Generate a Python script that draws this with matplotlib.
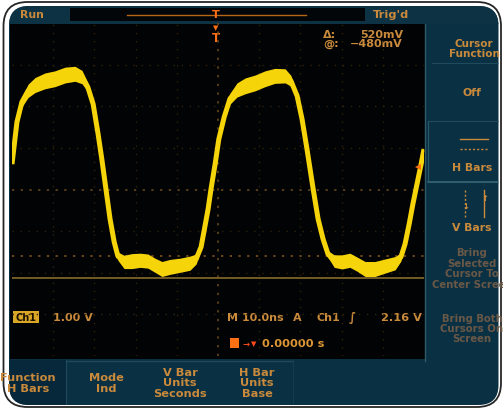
import matplotlib
matplotlib.use("Agg")
import matplotlib.pyplot as plt
from matplotlib.patches import FancyBboxPatch, Rectangle
import numpy as np

time_ns = [-50.0, -48.8, -47.6, -46.1, -44.4, -42.0, -39.6, -37.1, -34.7, -33.0,
           -31.6, -30.3, -29.1, -28.2, -27.2, -26.2, -25.2, -24.3, -22.8, -20.9,
           -18.9, -17.0, -15.3, -13.6, -11.7, -9.2, -6.8, -5.3, -4.1, -3.2,
           -2.4, -1.7, -0.7, 0.2, 1.5, 2.9, 4.6, 6.6, 9.0, 11.4,
           13.8, 16.3, 17.7, 19.2, 20.4, 21.6, 23.1, 24.3, 25.5, 26.7,
           28.2, 30.1, 32.0, 33.7, 35.7, 38.1, 40.5, 43.0, 44.4, 45.4,
           46.4, 47.3, 48.3, 49.3, 50.0]
trace_v = [0.61, 1.62, 2.10, 2.37, 2.51, 2.61, 2.66, 2.75, 2.78, 2.70,
           2.46, 2.05, 1.33, 0.73, 0.01, -0.71, -1.26, -1.60, -1.74, -1.72,
           -1.70, -1.72, -1.82, -1.91, -1.86, -1.82, -1.77, -1.67, -1.38, -0.90,
           -0.47, 0.01, 0.61, 1.21, 1.74, 2.18, 2.39, 2.49, 2.56, 2.66,
           2.73, 2.73, 2.61, 2.25, 1.69, 0.97, 0.01, -0.71, -1.19, -1.55,
           -1.72, -1.74, -1.70, -1.79, -1.91, -1.91, -1.84, -1.77, -1.62, -1.31,
           -0.83, -0.35, 0.13, 0.61, 0.97]
noise_v = [0.03, 0.06, 0.12, 0.16, 0.18, 0.19, 0.19, 0.19, 0.18, 0.16,
           0.11, 0.06, 0.02, 0.02, 0.02, 0.02, 0.04, 0.10, 0.16, 0.18,
           0.17, 0.17, 0.17, 0.18, 0.18, 0.17, 0.17, 0.12, 0.05, 0.02,
           0.02, 0.02, 0.02, 0.03, 0.07, 0.13, 0.17, 0.19, 0.19, 0.19,
           0.18, 0.17, 0.13, 0.07, 0.03, 0.02, 0.02, 0.02, 0.03, 0.08,
           0.15, 0.17, 0.17, 0.17, 0.18, 0.18, 0.17, 0.16, 0.10, 0.04,
           0.02, 0.02, 0.02, 0.02, 0.02]
cursor_levels_v = [-1.60, -2.12]
trigger_level_v = 0.54
time_divs = [-50, -40, -30, -20, -10, 0, 10, 20, 30, 40, 50]
volt_divs = [-4, -3, -2, -1, 0, 1, 2, 3, 4]

side_menu = ["Cursor\nFunction", "Off", "H Bars", "V Bars",
             "Bring\nSelected\nCursor To\nCenter Screen", "Bring Both\nCursors On\nScreen"]
bottom_menu = ["Function\nH Bars", "Mode\nInd", "V Bar\nUnits\nSeconds", "H Bar\nUnits\nBase"]
readout_delta = ("\u0394:", "520mV")
readout_at = ("@:", "\u2212480mV")
readout_ch = ("Ch1", "1.00 V")
readout_time = ["M 10.0ns", "A", "Ch1", "\u222b", "2.16 V"]
readout_pos = "0.00000 s"

# ---------------- styles ----------------
TEAL = "#0a3043"
TEAL_D = "#07273a"
ORANGE = "#c98a3c"
DIM = "#6a5847"
YELLOW = "#f6d40a"
BRIGHT = "#ff6f14"
FONT = "DejaVu Sans"

fig = plt.figure(figsize=(5.03, 4.10), dpi=100)
fig.patch.set_facecolor("white")

bg = fig.add_axes([0, 0, 1, 1])
bg.set_xlim(0, 503)
bg.set_ylim(410, 0)
bg.axis("off")

outline = FancyBboxPatch((3.5, 3), 497.5, 405, boxstyle="round,pad=0,rounding_size=24",
                         facecolor="white", edgecolor="#262626", lw=1.3, zorder=0)
bg.add_patch(outline)
screen = FancyBboxPatch((9, 7), 489.5, 399, boxstyle="round,pad=0,rounding_size=20",
                        facecolor=TEAL, edgecolor="none", zorder=1)
bg.add_patch(screen)


def rect(x0, y0, x1, y1, color, z=2, **kw):
    r = Rectangle((x0, y0), x1 - x0, y1 - y0, facecolor=color, edgecolor="none", zorder=z, **kw)
    bg.add_patch(r)
    r.set_clip_path(screen)
    return r


def txt(x, y, s, color=ORANGE, size=7.5, ha="center", va="center", z=6, **kw):
    t = bg.text(x, y, s, color=color, fontsize=size, ha=ha, va=va, zorder=z,
                family=FONT, fontweight="bold", linespacing=1.05, **kw)
    t.set_clip_path(screen)
    return t


def hline(x0, x1, y, color, lw=1.0, z=3, **kw):
    l, = bg.plot([x0, x1], [y, y], color=color, lw=lw, zorder=z, **kw)
    l.set_clip_path(screen)


def vline(x, y0, y1, color, lw=1.0, z=3, **kw):
    l, = bg.plot([x, x], [y0, y1], color=color, lw=lw, zorder=z, **kw)
    l.set_clip_path(screen)


# top bar
rect(0, 0, 503, 25, "#0c3244")
rect(70, 9, 365, 22, "#020608", z=3)
hline(127, 306, 15.5, "#b8661a", lw=1.0, z=4)
txt(32, 15, "Run", size=7.8)
txt(391, 15, "Trig'd", size=8.2)
txt(216, 15, "T", color=BRIGHT, size=8)

# graticule black area
rect(10, 25, 425, 360, "#020304", z=2)
vline(425, 25, 362, "#2f5a68", lw=1.0)

# bottom menu boxes
rect(10, 361, 66, 410, TEAL_D, z=2)
hline(66, 293, 361.5, "#1e4a5c", lw=1.0)
vline(66, 361, 406, "#1e4a5c", lw=0.8)
vline(293, 361, 406, "#143c4e", lw=0.8)
bx = [28, 106, 180, 257]
for x, s in zip(bx, bottom_menu):
    txt(x, 383.5, s, size=8.2)

# right menu
hline(432, 503, 64, "#1f4b5d", lw=0.8)
hline(428, 503, 122, "#1f4b5d", lw=0.8)
hline(428, 503, 182.5, "#3a6878", lw=1.2)
vline(428, 122, 183, "#2a5868", lw=0.8)
txt(474, 49, side_menu[0], size=7.5)
txt(472, 93, side_menu[1], size=7.8)
hline(460, 488, 140, ORANGE, lw=1.0, z=4)
hline(460, 488, 150, ORANGE, lw=1.0, z=4, linestyle=(0, (1.5, 1.5)))
txt(472, 168, side_menu[2], size=7.8)
vline(465.5, 191, 218, ORANGE, lw=1.0, z=4, linestyle=(0, (1.5, 1.5)))
vline(484.5, 191, 218, ORANGE, lw=1.0, z=4)
txt(465.5, 207, "\u2193", size=6, color=ORANGE)
txt(484.5, 199, "\u2191", size=6, color=ORANGE)
txt(472, 228, side_menu[3], size=7.8)
txt(472, 269, side_menu[4], size=7.3, color=DIM)
txt(472, 329, side_menu[5], size=7.3, color=DIM)

# readouts
txt(323, 35, readout_delta[0], ha="left", size=8)
txt(403, 35, readout_delta[1], ha="right", size=8)
txt(323, 44, readout_at[0], ha="left", size=8)
txt(403, 44, readout_at[1], ha="right", size=8)
rect(13, 312, 39, 324, "#d9a626", z=5)
txt(26, 318, readout_ch[0], color="#1c1200", size=7)
txt(73, 318, readout_ch[1], size=8)
txt(227, 318, readout_time[0], ha="left", size=8)
txt(297, 318, readout_time[1], size=8)
txt(328, 318, readout_time[2], size=8)
txt(352, 318, readout_time[3], size=8.5)
txt(401, 318, readout_time[4], size=8.2)
rect(230, 339, 239, 349, BRIGHT, z=5)
txt(246, 344, "\u2192", color="#ff4a1a", size=6)
txt(254, 344, "\u25bc", color="#ff4a1a", size=5)
txt(262, 344, readout_pos, ha="left", size=8.2, color="#dc9534")

# trigger position markers under the top bar
txt(216, 28, "\u25bc", color=BRIGHT, size=5)
txt(216, 38, "T", color=BRIGHT, size=8.5)

# ---------------- graticule axes (data) ----------------
ax = fig.add_axes([12 / 503, (410 - 357) / 410, 412 / 503, 333 / 410], zorder=2)
ax.set_xlim(time_divs[0], time_divs[-1])
ax.set_ylim(volt_divs[0], volt_divs[-1])
ax.axis("off")
ax.patch.set_alpha(0)

for t in time_divs[1:-1]:
    if t == 0:
        ax.axvline(t, color="#6e4c1c", lw=1.1, ls=(0, (1.5, 4.2)), zorder=1)
    else:
        ax.axvline(t, color="#30220d", lw=1.0, ls=(0, (1, 4.8)), zorder=1)
for v in volt_divs[1:-1]:
    if v == 0:
        ax.axhline(v, color="#6e4c1c", lw=1.1, ls=(0, (1.5, 4.2)), zorder=1)
    else:
        ax.axhline(v, color="#30220d", lw=1.0, ls=(0, (1, 4.8)), zorder=1)

ax.axhline(cursor_levels_v[0], color="#8a5a22", lw=1.1, ls=(0, (1.5, 4.2)), zorder=2)
ax.axhline(cursor_levels_v[1], color="#7c6428", lw=1.3, zorder=2)

tv = np.array(time_ns)
vv = np.array(trace_v)
nv = np.array(noise_v)
ax.fill_between(tv, vv - nv, vv + nv, color=YELLOW, lw=0, zorder=3)
ax.plot(tv, vv, color=YELLOW, lw=3.6, solid_joinstyle="round", solid_capstyle="butt", zorder=4)

ax.plot([48.6], [trigger_level_v], marker="<", color=BRIGHT, ms=4, mew=0, zorder=5)

fig.savefig("out.png", dpi=100)
